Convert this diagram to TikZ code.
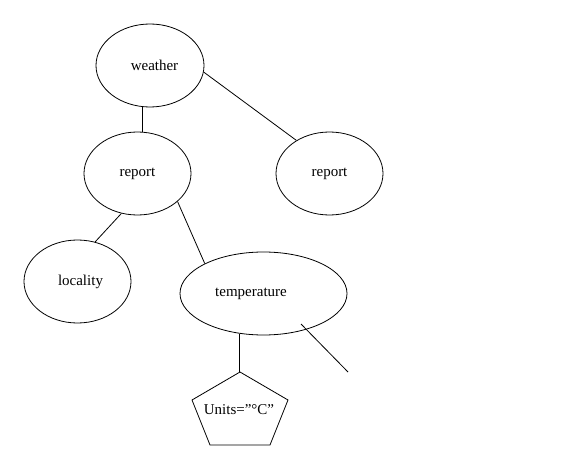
\documentclass[tikz,border=0pt]{standalone}
\usepackage{fontspec}
\setmainfont{Liberation Serif}
\usetikzlibrary{shapes.geometric}

\begin{document}
\begin{tikzpicture}[x=1bp, y=-1bp,
  elem/.style={draw, ellipse, minimum width=107bp, minimum height=83bp,
               inner sep=0pt, font=\fontsize{15bp}{18bp}\selectfont},
  link/.style={draw},
  every path/.style={line width=0.8bp}]
\useasboundingbox (0,0) rectangle (576,456);
\node[elem, minimum width=108bp] (weather) at (150,65.5) {\hspace*{9bp}weather};
\node[elem] (report) at (137.5,173.5) {report};
\node[elem] (report2) at (329.5,173.5) {report};
\node[elem] (locality) at (77.5,281.5) {\hspace*{6bp}locality};
\node[elem, minimum width=167bp] (temp) at (263.5,293.5) {temperature\hspace*{25bp}};
\coordinate (unitstop) at (240,372);
\coordinate (loose) at (348,372);
\node[font=\fontsize{15bp}{18bp}\selectfont, inner sep=0pt] (units) at (239,410) {Units=”°C”};
% pentagon round the attribute
\draw (unitstop) -- ++(48,28) -- ++(-18,45) -- ++(-60,0) -- ++(-18,-45) -- cycle;
\draw[link] (weather.260) -- (weather.260 |- report.north);
\draw[link] (weather.353) -- (report2.135);
\draw[link] (report.248) -- (locality.66);
\draw[link] (report.325) -- (temp.153);
\draw[link] (temp.239) -- (temp.239 |- unitstop);
\draw[link] ([shift={(37.5,30.5)}]temp.center) -- (loose);
\end{tikzpicture}
\end{document}
